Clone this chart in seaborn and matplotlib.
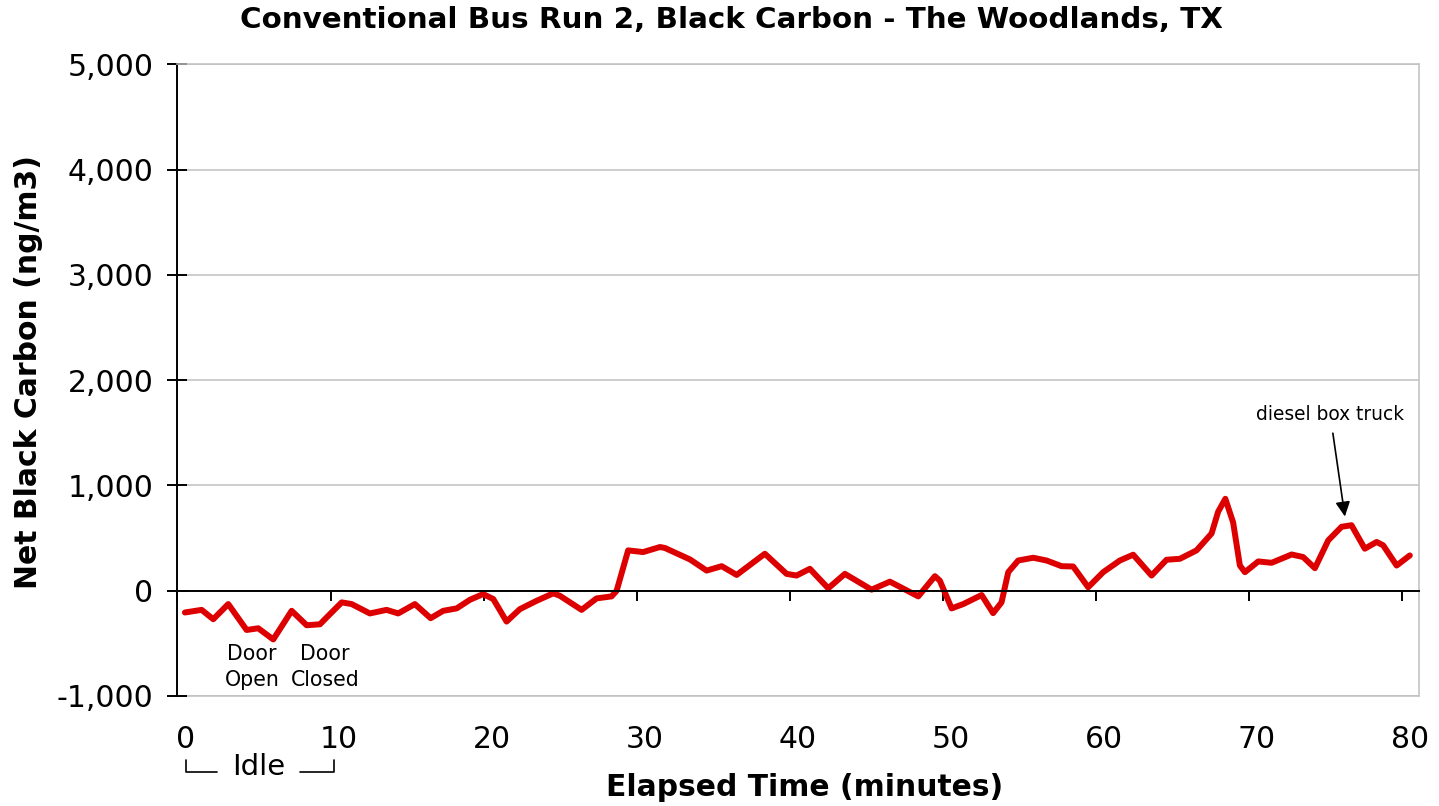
import matplotlib
matplotlib.use('Agg')
import matplotlib.pyplot as plt
import matplotlib.ticker as mticker
import seaborn as sns
import pandas as pd

# Elapsed time (minutes) and net black carbon (ng/m3)
minutes = [0.49, 1.58, 2.34, 3.32, 4.52, 5.28, 6.26, 7.46, 8.44, 9.31,
           9.85, 10.73, 11.38, 12.57, 13.66, 14.42, 15.51, 16.54, 17.36, 18.24,
           19.11, 19.97, 20.63, 21.50, 22.37, 23.46, 24.55, 24.98, 26.40, 27.38,
           28.36, 28.69, 29.44, 30.42, 31.52, 31.84, 33.48, 34.57, 35.55, 36.53,
           38.37, 39.79, 40.44, 41.31, 42.51, 43.60, 45.34, 46.54, 48.39, 49.48,
           49.80, 50.57, 51.33, 52.53, 53.28, 53.83, 54.27, 54.92, 55.90, 56.77,
           57.75, 58.51, 59.49, 60.47, 61.56, 62.43, 63.63, 64.61, 65.48, 66.57,
           67.55, 67.98, 68.45, 68.96, 69.40, 69.73, 70.60, 71.47, 72.78, 73.53,
           74.30, 75.17, 76.04, 76.69, 77.56, 78.33, 78.76, 79.64, 80.50]
black_carbon = [-207, -182, -271, -127, -373, -357, -463, -191, -328, -319,
                -239, -111, -127, -216, -182, -216, -127, -261, -191, -168,
                -86, -32, -79, -293, -175, -96, -25, -48, -182, -73,
                -54, 0, 383, 367, 415, 406, 297, 191, 233, 150,
                351, 160, 144, 208, 23, 160, 10, 86, -54, 138,
                96, -168, -127, -41, -213, -111, 176, 287, 313, 287,
                233, 230, 33, 176, 287, 342, 144, 294, 303, 383,
                543, 750, 873, 648, 239, 176, 278, 265, 344, 320,
                214, 478, 607, 622, 399, 463, 431, 239, 335]

x_ticks = [0, 10, 20, 30, 40, 50, 60, 70, 80]
y_ticks = [-1000, 0, 1000, 2000, 3000, 4000, 5000]

df = pd.DataFrame({'minutes': minutes, 'bc': black_carbon})

sns.set_theme(style='white')
plt.rcParams['font.family'] = ['DejaVu Sans']

fig = plt.figure(figsize=(14.39, 8.06), dpi=100)
ax = fig.add_axes([0.1233, 0.1365, 0.8628, 0.7837])

sns.lineplot(data=df, x='minutes', y='bc', color='#dd0000', linewidth=4.3, ax=ax)

ax.set_xlim(0, 81.1)
ax.set_ylim(-1000, 5000)
ax.set_yticks(y_ticks)
ax.yaxis.set_major_formatter(mticker.FuncFormatter(lambda v, p: f'{v:,.0f}'))
ax.set_xticks(x_ticks)
ax.set_xlabel('')
ax.set_ylabel('')

ax.grid(axis='y', color='#c0c0c0', linewidth=1.1)
ax.grid(axis='x', visible=False)
ax.set_axisbelow(True)

# zero line acts as the x axis
ax.spines['bottom'].set_position(('data', 0))
ax.spines['bottom'].set_color('black')
ax.spines['bottom'].set_linewidth(1.4)
ax.spines['left'].set_color('black')
ax.spines['left'].set_linewidth(1.4)
ax.spines['top'].set_color('#c0c0c0')
ax.spines['right'].set_color('#c0c0c0')
ax.spines['top'].set_linewidth(1.1)
ax.spines['right'].set_linewidth(1.1)

ax.tick_params(axis='x', bottom=True, labelbottom=False, direction='out',
               length=7.2, width=1.4, color='black')
ax.tick_params(axis='y', left=True, direction='inout', length=14.4, width=1.4,
               color='black', labelsize=21.5, labelcolor='black', pad=10)

# x labels along the bottom edge, nudged right like the original
secax = ax.secondary_xaxis('bottom', functions=(lambda x: x - 0.52, lambda x: x + 0.52))
secax.set_xticks(x_ticks)
secax.tick_params(axis='x', length=0, labelsize=21.5, labelcolor='black', pad=21)
secax.spines['bottom'].set_color('#c0c0c0')
secax.spines['bottom'].set_linewidth(1.1)

fig.text(0.508, 0.975, 'Conventional Bus Run 2, Black Carbon - The Woodlands, TX',
         ha='center', va='center', fontsize=21.2, fontweight='bold', color='black')
fig.text(805 / 1439, 1 - 788 / 806, 'Elapsed Time (minutes)', ha='center', va='center',
         fontsize=21.4, fontweight='bold', color='black')
fig.text(29 / 1439, 1 - 372 / 806, 'Net Black Carbon (ng/m3)', ha='center', va='center',
         rotation=90, fontsize=21.5, fontweight='bold', color='black')

# annotations
ax.text(4.87, -722, 'Door\nOpen', ha='center', va='center', fontsize=14.8,
        linespacing=1.35, color='black')
ax.text(9.63, -722, 'Door\nClosed', ha='center', va='center', fontsize=14.8,
        linespacing=1.35, color='black')
ax.annotate('diesel box truck', xy=(76.26, 705), xytext=(75.3, 1670),
            ha='center', va='center', fontsize=13.4, color='black',
            arrowprops=dict(arrowstyle='-|>', color='black', lw=1.2,
                            mutation_scale=22, shrinkA=4, shrinkB=0))

# idle bracket under the axis
ax.plot([0.55, 0.55, 2.56], [-1611, -1725, -1725], color='black', lw=1.2, clip_on=False)
ax.plot([8.0, 10.22, 10.22], [-1725, -1725, -1611], color='black', lw=1.2, clip_on=False)
ax.text(5.29, -1678, 'Idle', ha='center', va='center', fontsize=21, color='black',
        clip_on=False)

fig.savefig('out.png', dpi=100)
